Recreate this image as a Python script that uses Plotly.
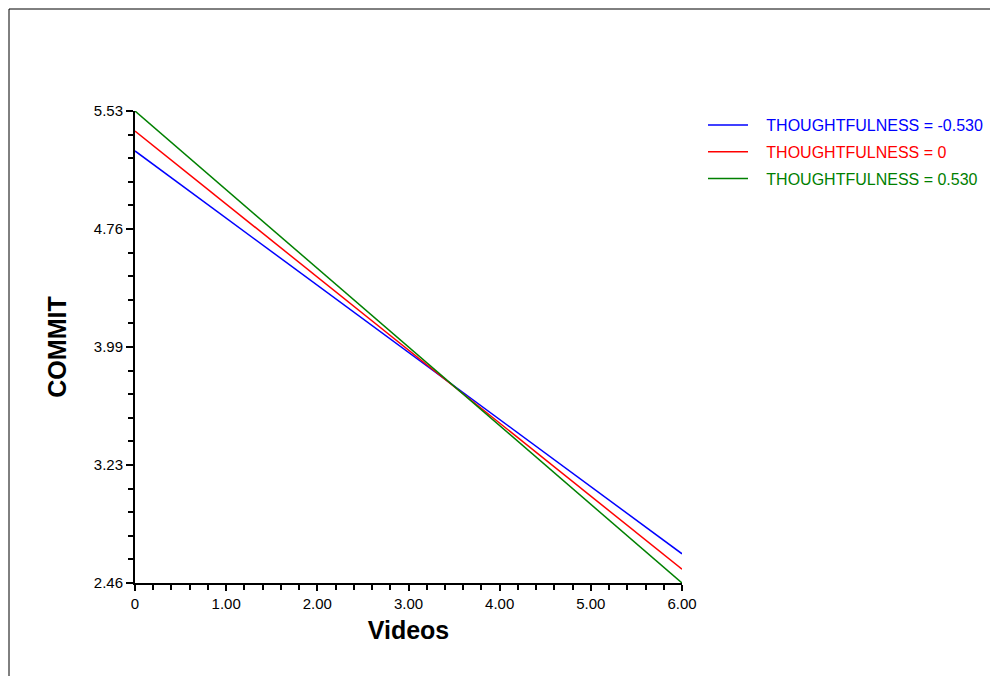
import plotly.graph_objects as go

# Data
x_vals = [0, 6]
series_names = ["THOUGHTFULNESS = -0.530", "THOUGHTFULNESS = 0", "THOUGHTFULNESS = 0.530"]
series_colors = ["#0000ff", "#ff0000", "#008000"]
blue_y = [5.27, 2.65]
red_y = [5.40, 2.55]
green_y = [5.53, 2.46]
series_y = [blue_y, red_y, green_y]

x_tickvals = [0, 1, 2, 3, 4, 5, 6]
x_ticktext = ["0", "1.00", "2.00", "3.00", "4.00", "5.00", "6.00"]
y_min, y_max = 2.46, 5.53
y_step = (y_max - y_min) / 4
y_tickvals = [y_min + i * y_step for i in range(5)]
y_ticktext = ["2.46", "3.23", "3.99", "4.76", "5.53"]

FONT = "Liberation Sans, Arial, sans-serif"

fig = go.Figure()
for i, (name, col, ys) in enumerate(zip(series_names, series_colors, series_y)):
    fig.add_trace(go.Scatter(
        x=x_vals, y=ys, mode="lines",
        line=dict(color=col, width=1.5),
        name=f'<span style="color:{col}">&nbsp;&nbsp;&nbsp;{name}</span>',
        legendgroup=f"g{i}",
        cliponaxis=False,
    ))

OFF = 8  # page offset of the figure inside the browser window
W, H = 998, 676
pw, ph = 547, 472
L = 135 - OFF
T = 111 - OFF
R = W - L - pw
B = H - T - ph

def px_x(p):
    return (p - OFF - L) / pw

def px_y(p):
    return (H - B - (p - OFF)) / ph

fig.add_shape(type="rect", xref="paper", yref="paper",
              x0=px_x(9), x1=px_x(1020), y0=px_y(700), y1=px_y(9),
              line=dict(color="black", width=1), fillcolor="rgba(0,0,0,0)")

fig.update_layout(
    width=W, height=H,
    margin=dict(l=L, r=R, t=T, b=B),
    paper_bgcolor="white", plot_bgcolor="white",
    font=dict(family=FONT, size=15, color="black"),
    showlegend=True,
    legend=dict(x=px_x(703), y=px_y(108), xanchor="left", yanchor="top",
                font=dict(family=FONT, size=16), bgcolor="rgba(0,0,0,0)",
                tracegroupgap=3, itemwidth=40),
    xaxis=dict(
        range=[0, 6], showgrid=False, zeroline=False,
        showline=True, linecolor="black", linewidth=2,
        tickmode="array", tickvals=x_tickvals, ticktext=x_ticktext,
        ticks="outside", ticklen=6, tickwidth=2, tickcolor="black",
        tickfont=dict(family=FONT, size=15, color="black"),
        minor=dict(tickmode="linear", tick0=0, dtick=0.2, ticks="outside",
                   ticklen=5, tickwidth=1.5, tickcolor="black", showgrid=False),
        title=dict(text="<b>Videos</b>", font=dict(family=FONT, size=25, color="black"),
                   standoff=10),
    ),
    yaxis=dict(
        range=[y_min, y_max], showgrid=False, zeroline=False,
        showline=True, linecolor="black", linewidth=2,
        tickmode="array", tickvals=y_tickvals, ticktext=y_ticktext,
        ticks="outside", ticklen=7, tickwidth=2, tickcolor="black",
        tickfont=dict(family=FONT, size=15, color="black"),
        minor=dict(tickmode="linear", tick0=y_min, dtick=y_step / 5, ticks="outside",
                   ticklen=5, tickwidth=1.5, tickcolor="black", showgrid=False),
        title=dict(text="<b>COMMIT</b>", font=dict(family=FONT, size=25, color="black"),
                   standoff=20),
    ),
)

fig.write_html("out.html")
